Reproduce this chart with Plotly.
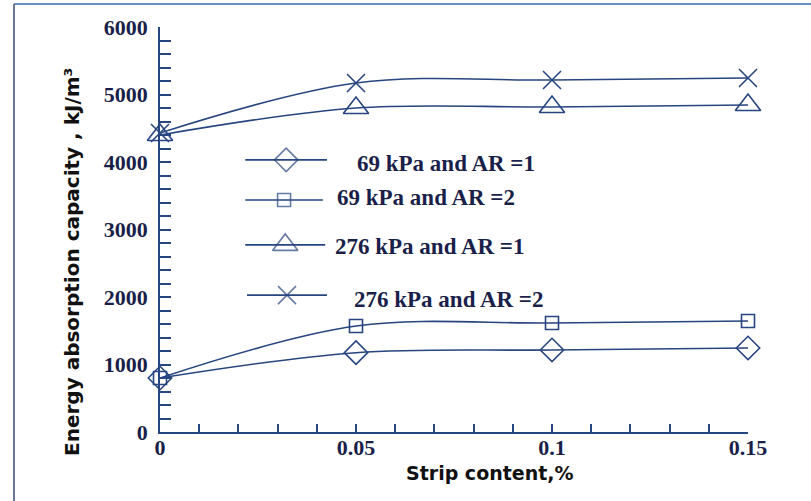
import plotly.graph_objects as go

strip_content = [0, 0.05, 0.1, 0.15]
series_names = ["69 kPa and AR =1", "69 kPa and AR =2", "276 kPa and AR =1", "276 kPa and AR =2"]
e_69_ar1 = [800, 1175, 1215, 1245]
e_69_ar2 = [800, 1570, 1615, 1645]
e_276_ar1 = [4400, 4800, 4815, 4845]
e_276_ar2 = [4430, 5170, 5215, 5245]
x_ticks = [0, 0.05, 0.1, 0.15]
x_tick_text = ["0", "0.05", "0.1", "0.15"]
y_ticks = [0, 1000, 2000, 3000, 4000, 5000, 6000]

LINE = "#27457f"
TXT = "#1a1f4a"
serif = "Liberation Serif"

symbols = ["diamond-open", "square-open", "triangle-up-open", "x-thin-open"]
sizes = [18, 13, 22, 18]
values = [e_69_ar1, e_69_ar2, e_276_ar1, e_276_ar2]

fig = go.Figure()
for name, vals, sym, sz in zip(series_names, values, symbols, sizes):
    fig.add_trace(go.Scatter(
        x=strip_content, y=vals, name=name, mode="lines+markers",
        line=dict(color=LINE, width=1.6, shape="spline", smoothing=1.0),
        marker=dict(symbol=sym, size=sz, color=LINE, line=dict(color=LINE, width=1.6)),
        cliponaxis=False, showlegend=False,
    ))

# hand-made legend (keys on an overlay axis spanning the plot area)
leg_y = [0.672, 0.573, 0.462, 0.338]
leg_x0 = [0.145, 0.145, 0.145, 0.148]
leg_x1 = [0.284, 0.277, 0.281, 0.284]
leg_tx = [0.332, 0.298, 0.294, 0.327]
leg_ty = [0.664, 0.578, 0.459, 0.326]
for i in range(4):
    xm = (leg_x0[i] + leg_x1[i]) / 2
    fig.add_trace(go.Scatter(
        x=[leg_x0[i], xm, leg_x1[i]], y=[leg_y[i]] * 3, xaxis="x2", yaxis="y2",
        mode="lines+markers", line=dict(color=LINE, width=1.6),
        marker=dict(symbol=symbols[i], size=[0, sizes[i], 0], color=LINE,
                    line=dict(color=LINE, width=1.6)),
        showlegend=False, hoverinfo="skip", cliponaxis=False,
    ))
    fig.add_annotation(x=leg_tx[i], y=leg_ty[i], xref="x2", yref="y2", text=series_names[i],
                       showarrow=False, xanchor="left", yanchor="middle",
                       font=dict(family=serif, size=23, color=TXT, weight="bold"))

fig.update_layout(
    width=811, height=501,
    margin=dict(l=160, r=63, t=27, b=69),
    paper_bgcolor="white", plot_bgcolor="white",
    xaxis=dict(range=[0, 0.15], tickvals=x_ticks, ticktext=x_tick_text,
               ticks="inside", ticklen=8, tickwidth=1.5, tickcolor=LINE,
               showline=True, linecolor=LINE, linewidth=1.6, showgrid=False, zeroline=False,
               minor=dict(dtick=0.01, ticks="inside", ticklen=8, tickwidth=1.5, tickcolor=LINE),
               ticklabelstandoff=-5,
               tickfont=dict(family=serif, size=22, color=TXT, weight="bold")),
    yaxis=dict(range=[0, 6000], tickvals=y_ticks,
               ticks="inside", ticklen=11, tickwidth=1.5, tickcolor=LINE,
               showline=True, linecolor=LINE, linewidth=1.6, showgrid=False, zeroline=False,
               minor=dict(dtick=200, ticks="inside", ticklen=11, tickwidth=1.5, tickcolor=LINE),
               ticklabelstandoff=6,
               tickfont=dict(family=serif, size=22, color=TXT, weight="bold")),
    xaxis2=dict(overlaying="x", range=[0, 1], visible=False),
    yaxis2=dict(overlaying="y", range=[0, 1], visible=False),
)

# axis titles
fig.add_annotation(x=(490 - 160) / 588, y=-(473 - 432) / 405, xref="paper", yref="paper",
                   text="Strip content,%", showarrow=False, xanchor="center", yanchor="middle",
                   font=dict(family="DejaVu Sans", size=19, color="#111111", weight="bold"))
fig.add_annotation(x=(72 - 160) / 588, y=(432 - 262) / 405, xref="paper", yref="paper",
                   text="Energy absorption capacity , kJ/m³", showarrow=False, textangle=-90,
                   xanchor="center", yanchor="middle",
                   font=dict(family="DejaVu Sans", size=20, color="#111111", weight="bold"))

# figure frame (left and top borders)
fl = (14 - 160) / 588
ft = (432 - 4) / 405
fig.add_shape(type="line", xref="paper", yref="paper", x0=fl, x1=fl, y0=ft, y1=-(501 - 432) / 405,
              line=dict(color="#3a4a70", width=1.5))
fig.add_shape(type="line", xref="paper", yref="paper", x0=fl, x1=(811 - 160) / 588, y0=ft, y1=ft,
              line=dict(color="#3a6aa8", width=1.5))

fig.write_html("out.html", config={"displayModeBar": False},
               post_script="document.body.style.margin='0px';document.body.style.overflow='hidden';")
